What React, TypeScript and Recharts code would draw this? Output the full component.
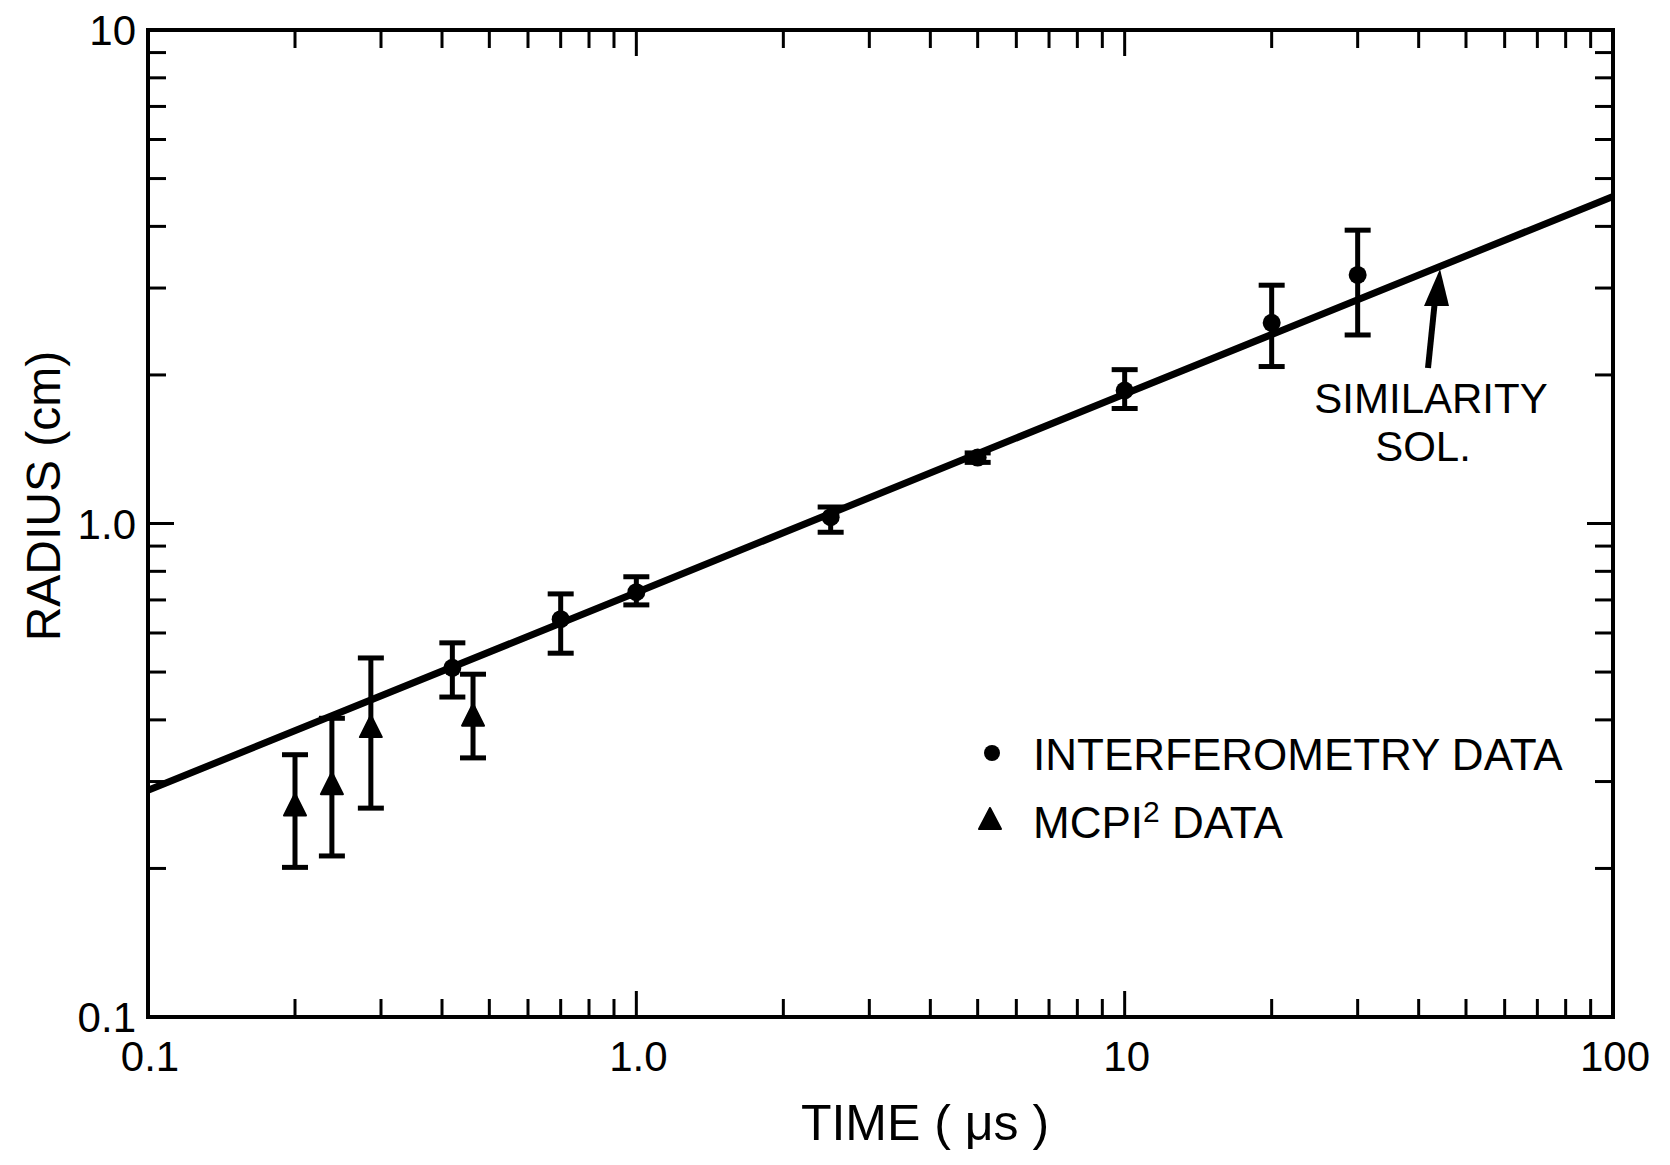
import { ScatterChart, Scatter, XAxis, YAxis, ErrorBar } from "recharts"

// ─── Layout ────────────────────────────────────────────────────────────────────

const W = 1670
const H = 1165
const FONT = "'Liberation Sans', Arial, sans-serif"
const INK = "#000"

// ─── Data ──────────────────────────────────────────────────────────────────────

// similarity solution (straight line on log-log)
const SIM_T = [0.1, 1, 10, 100]
const SIM_R = [0.288, 0.725, 1.83, 4.6]

// interferometry data (circles)
const INTERF_T = [0.42, 0.7, 1.0, 2.5, 5, 10, 20, 30]
const INTERF_R = [0.51, 0.64, 0.726, 1.03, 1.36, 1.86, 2.55, 3.19]
const INTERF_LO = [0.445, 0.546, 0.684, 0.96, 1.33, 1.71, 2.08, 2.41]
const INTERF_HI = [0.573, 0.72, 0.78, 1.08, 1.39, 2.05, 3.04, 3.93]

// MCPI² data (triangles)
const MCPI_T = [0.2, 0.238, 0.286, 0.463]
const MCPI_R = [0.267, 0.295, 0.385, 0.406]
const MCPI_LO = [0.201, 0.212, 0.265, 0.335]
const MCPI_HI = [0.34, 0.403, 0.534, 0.495]

// ticks
const X_TICKS = [
    0.1, 0.2, 0.3, 0.4, 0.5, 0.6, 0.7, 0.8, 0.9,
    1, 2, 3, 4, 5, 6, 7, 8, 9,
    10, 20, 30, 40, 50, 60, 70, 80, 90, 100,
]
const X_MAJOR = [0.1, 1, 10, 100]
const X_LABELS = ["0.1", "1.0", "10", "100"]

const Y_TICKS = [
    0.1, 0.2, 0.3, 0.4, 0.5, 0.6, 0.7, 0.8, 0.9,
    1, 2, 3, 4, 5, 6, 7, 8, 9, 10,
]
const Y_MAJOR = [0.1, 1, 10]
const Y_LABELS = ["0.1", "1.0", "10"]

// ─── Rows for the library ─────────────────────────────────────────────────────

const simRows = SIM_T.map((t, i) => ({ t, r: SIM_R[i] }))
const interfRows = INTERF_T.map((t, i) => ({
    t,
    r: INTERF_R[i],
    err: [INTERF_R[i] - INTERF_LO[i], INTERF_HI[i] - INTERF_R[i]],
}))
const mcpiRows = MCPI_T.map((t, i) => ({
    t,
    r: MCPI_R[i],
    err: [MCPI_R[i] - MCPI_LO[i], MCPI_HI[i] - MCPI_R[i]],
}))

// ─── Ticks (drawn inward, labels only on bottom/left) ─────────────────────────

type Side = "bottom" | "top" | "left" | "right"
type TickProps = { x: number; y: number; payload: { value: number } }

function makeTick(side: Side) {
    const horizontal = side === "bottom" || side === "top"
    const major = horizontal ? X_MAJOR : Y_MAJOR
    const labels = horizontal ? X_LABELS : Y_LABELS
    return function Tick({ x, y, payload }: TickProps) {
        const v = payload.value
        const mi = major.indexOf(v)
        const len = mi >= 0 ? 26 : 18
        let x2 = x
        let y2 = y
        if (side === "bottom") y2 = y - len
        if (side === "top") y2 = y + len
        if (side === "left") x2 = x + len
        if (side === "right") x2 = x - len
        let label = null
        if (mi >= 0 && side === "bottom") {
            label = (
                <text x={x + 2} y={y + 54} textAnchor="middle" fontSize={42} fontFamily={FONT} fill={INK}>
                    {labels[mi]}
                </text>
            )
        }
        if (mi >= 0 && side === "left") {
            label = (
                <text x={x - 12} y={y} dy="0.36em" textAnchor="end" fontSize={42} fontFamily={FONT} fill={INK}>
                    {labels[mi]}
                </text>
            )
        }
        return (
            <g>
                <line x1={x} y1={y} x2={x2} y2={y2} stroke={INK} strokeWidth={3} />
                {label}
            </g>
        )
    }
}

const axisLine = { stroke: INK, strokeWidth: 4, strokeLinecap: "square" as const }

// ─── Marks ─────────────────────────────────────────────────────────────────────

function Dot(p: { cx?: number; cy?: number }) {
    if (p.cx == null || p.cy == null) return <g />
    return <circle cx={p.cx} cy={p.cy} r={9} fill={INK} />
}

function Tri(p: { cx?: number; cy?: number }) {
    if (p.cx == null || p.cy == null) return <g />
    const { cx, cy } = p
    return (
        <polygon
            points={`${cx},${cy - 13} ${cx - 11},${cy + 9} ${cx + 11},${cy + 9}`}
            fill={INK}
            stroke={INK}
            strokeWidth={2}
            strokeLinejoin="round"
        />
    )
}

const NoShape = () => <g />

// ─── Component ─────────────────────────────────────────────────────────────────

export default function App() {
    return (
        <div style={{ position: "absolute", left: 0, top: 0, width: W, height: H, background: "#fff" }}>
            <ScatterChart
                width={W}
                height={H}
                margin={{ top: 29, right: 56, bottom: 147, left: 147 }}
            >
                <XAxis
                    dataKey="t"
                    type="number"
                    scale="log"
                    domain={[0.1, 100]}
                    allowDataOverflow
                    ticks={X_TICKS}
                    interval={0}
                    height={1}
                    tickSize={0}
                    tickMargin={0}
                    tickLine={false}
                    axisLine={axisLine}
                    tick={makeTick("bottom")}
                />
                <XAxis
                    xAxisId="top"
                    orientation="top"
                    dataKey="t"
                    type="number"
                    scale="log"
                    domain={[0.1, 100]}
                    allowDataOverflow
                    ticks={X_TICKS}
                    interval={0}
                    height={1}
                    tickSize={0}
                    tickMargin={0}
                    tickLine={false}
                    axisLine={axisLine}
                    tick={makeTick("top")}
                />
                <YAxis
                    dataKey="r"
                    type="number"
                    scale="log"
                    domain={[0.1, 10]}
                    allowDataOverflow
                    ticks={Y_TICKS}
                    interval={0}
                    width={1}
                    tickSize={0}
                    tickMargin={0}
                    tickLine={false}
                    axisLine={axisLine}
                    tick={makeTick("left")}
                />
                <YAxis
                    yAxisId="right"
                    orientation="right"
                    dataKey="r"
                    type="number"
                    scale="log"
                    domain={[0.1, 10]}
                    allowDataOverflow
                    ticks={Y_TICKS}
                    interval={0}
                    width={1}
                    tickSize={0}
                    tickMargin={0}
                    tickLine={false}
                    axisLine={axisLine}
                    tick={makeTick("right")}
                />
                <Scatter
                    name="Similarity sol."
                    data={simRows}
                    line={{ stroke: INK, strokeWidth: 7 }}
                    lineType="joint"
                    shape={NoShape}
                    isAnimationActive={false}
                />
                <Scatter
                    name="Interferometry data"
                    data={interfRows}
                    shape={Dot}
                    isAnimationActive={false}
                >
                    <ErrorBar dataKey="err" direction="y" width={13} strokeWidth={5} stroke={INK} isAnimationActive={false} />
                </Scatter>
                <Scatter
                    name="MCPI² data"
                    data={mcpiRows}
                    shape={Tri}
                    isAnimationActive={false}
                >
                    <ErrorBar dataKey="err" direction="y" width={13} strokeWidth={5} stroke={INK} isAnimationActive={false} />
                </Scatter>
            </ScatterChart>

            {/* titles, legend and annotation */}
            <svg
                width={W}
                height={H}
                style={{ position: "absolute", left: 0, top: 0, pointerEvents: "none" }}
                fontFamily={FONT}
                fill={INK}
            >
                <text transform="translate(60,496) rotate(-90)" textAnchor="middle" fontSize={48}>
                    RADIUS (cm)
                </text>
                <text x={925} y={1140} textAnchor="middle" fontSize={50}>
                    TIME ( μs )
                </text>

                <circle cx={992} cy={753} r={8} fill={INK} />
                <text x={1033} y={770} fontSize={44}>INTERFEROMETRY DATA</text>
                <polygon points="990,808 979,829 1001,829" fill={INK} stroke={INK} strokeWidth={2} strokeLinejoin="round" />
                <text x={1033} y={838} fontSize={44}>
                    MCPI
                    <tspan fontSize={30} dy={-16}>2</tspan>
                    <tspan dy={16}> DATA</tspan>
                </text>

                <line x1={1428} y1={368} x2={1435} y2={300} stroke={INK} strokeWidth={6} />
                <polygon points="1440,269 1424,306 1449,306" fill={INK} />
                <text x={1431} y={413} textAnchor="middle" fontSize={42}>SIMILARITY</text>
                <text x={1423} y={461} textAnchor="middle" fontSize={42}>SOL.</text>
            </svg>
        </div>
    )
}
